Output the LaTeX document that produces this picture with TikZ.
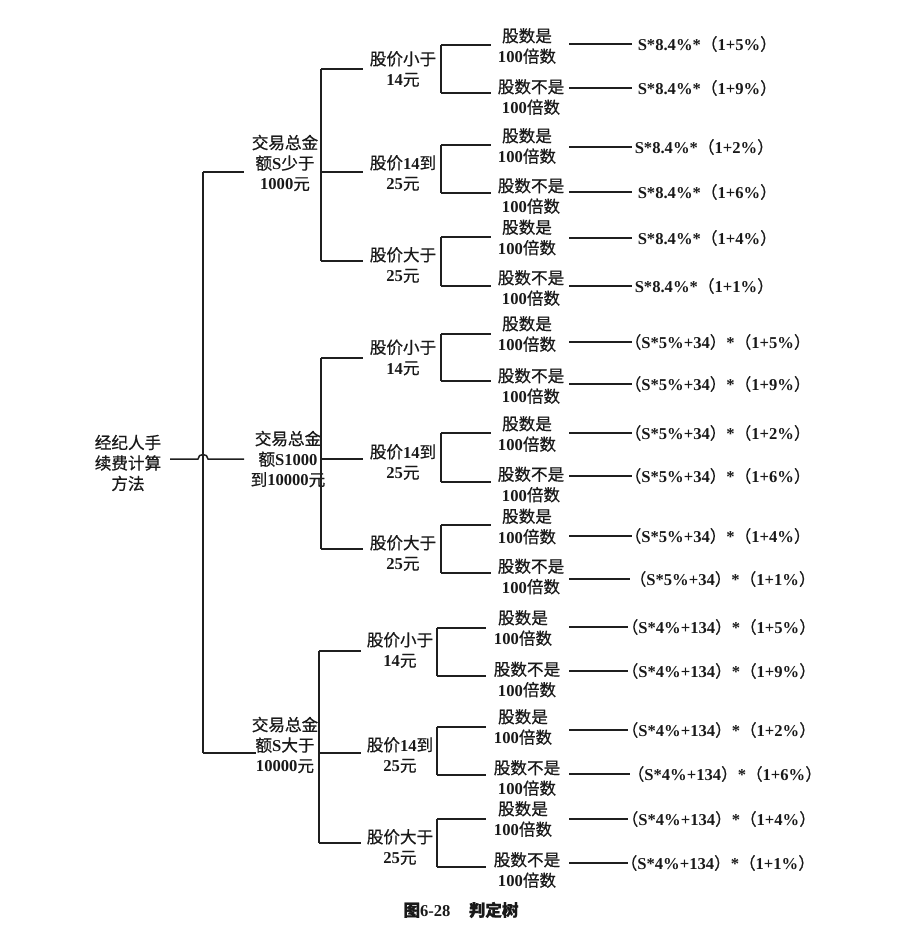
\documentclass[tikz,border=0pt]{standalone}
\usepackage{fontspec}
\setmainfont{Liberation Serif}
\newfontfamily\cjkfont[FakeBold=0.6]{Noto Sans CJK SC}
\newcommand\zh[1]{{\cjkfont\mdseries #1}}
\newcommand\ismult{\zh{股数是}\\100\zh{倍数}}
\newcommand\notmult{\zh{股数不是}\\100\zh{倍数}}
\newcommand\fa[1]{S*8.4\%*\zh{（}1+#1\%\zh{）}}
\newcommand\fb[1]{\zh{（}S*5\%+34\zh{）}*\zh{（}1+#1\%\zh{）}}
\newcommand\fc[1]{\zh{（}S*4\%+134\zh{）}*\zh{（}1+#1\%\zh{）}}
% leaf: id, stub y, text x, text y, text, leader y, leader end x, formula x, formula
\newcommand\leaf[9]{%
  \coordinate (#1s) at (\stubx,#2);
  \coordinate (#1e) at (\stubxe,#2);
  \node[lbl] (#1) at (#3,#4) {#5};
  \coordinate (#1l) at (569,#6);
  \coordinate (#1r) at (#7,#6);
  \node[fml] (#1f) at (#8,#6) {#9};
  \draw (#1s) -- (#1e);
  \draw (#1l) -- (#1r);
}
% price branch: id, group spine x, branch y, label x, label y, label, stub top y, stub bottom y
\newcommand\pricebranch[8]{%
  \coordinate (#1j) at (#2,#3);
  \coordinate (#1i) at (#2+42,#3);
  \node[lbl] (#1) at (#4,#5) {#6};
  \coordinate (#1t) at (\stubx,#7);
  \coordinate (#1b) at (\stubx,#8);
  \draw (#1j) -- (#1i);
  \draw (#1t) -- (#1b);
}
\begin{document}
\begin{tikzpicture}[x=1pt,y=-1pt,line width=1.5pt,draw=black!88,
  txt/.style={inner sep=0pt,text=black!90,font=\fontsize{16.6}{20.5}\selectfont\bfseries},
  lbl/.style={txt,align=center},
  fml/.style={txt,anchor=west}]
\useasboundingbox (0,0) rectangle (916,933);

% root and trunk
\node[lbl] (root) at (128,463) {\zh{经纪人手}\\\zh{续费计算}\\\zh{方法}};
\coordinate (rootout) at (170,459);
\coordinate (hopL) at (198,459);
\coordinate (hopR) at (208,459);
\coordinate (stem1) at (203,172);
\coordinate (stem3) at (203,753);
\coordinate (g1in) at (244,172);
\coordinate (g2in) at (244,459);
\coordinate (g3in) at (256,753);
\draw (stem1) -- (stem3);
\draw (stem1) -- (g1in);
\draw (stem3) -- (g3in);
\draw (rootout) -- (hopL) .. controls (198,453) and (208,453) .. (hopR) -- (g2in);

% ---------- amount below 1000
\node[lbl] (g1) at (285,163) {\zh{交易总金}\\\zh{额}S\zh{少于}\\1000\zh{元}};
\def\stubx{441}\def\stubxe{491}
\pricebranch{g1a}{321}{69}{403}{69}{\zh{股价小于}\\14\zh{元}}{45}{93}
\pricebranch{g1b}{321}{172}{403}{173}{\zh{股价}14\zh{到}\\25\zh{元}}{145}{193}
\pricebranch{g1c}{321}{261}{403}{265}{\zh{股价大于}\\25\zh{元}}{237}{286}
\draw (g1aj) -- (g1cj);
\leaf{l1}{45}{527}{46}{\ismult}{44}{632}{637}{\fa{5}}
\leaf{l2}{93}{531}{97}{\notmult}{88}{632}{637}{\fa{9}}
\leaf{l3}{145}{527}{146}{\ismult}{147}{632}{634}{\fa{2}}
\leaf{l4}{193}{531}{196}{\notmult}{192}{632}{637}{\fa{6}}
\leaf{l5}{237}{527}{237.5}{\ismult}{238}{632}{637}{\fa{4}}
\leaf{l6}{286}{531}{288}{\notmult}{286}{632}{634}{\fa{1}}

% ---------- amount 1000 to 10000
\node[lbl] (g2) at (288,459) {\zh{交易总金}\\\zh{额}S1000\\\zh{到}10000\zh{元}};
\pricebranch{g2a}{321}{358}{403}{357.5}{\zh{股价小于}\\14\zh{元}}{334}{381}
\pricebranch{g2b}{321}{459}{403}{462}{\zh{股价}14\zh{到}\\25\zh{元}}{433}{482}
\pricebranch{g2c}{321}{549}{403}{553}{\zh{股价大于}\\25\zh{元}}{525}{573}
\draw (g2aj) -- (g2cj);
\leaf{l7}{334}{527}{334}{\ismult}{342}{632}{624}{\fb{5}}
\leaf{l8}{381}{531}{386}{\notmult}{384}{632}{624}{\fb{9}}
\leaf{l9}{433}{527}{434}{\ismult}{433}{632}{624}{\fb{2}}
\leaf{l10}{482}{531}{484.5}{\notmult}{476}{632}{624}{\fb{6}}
\leaf{l11}{525}{527}{526.5}{\ismult}{536}{632}{624}{\fb{4}}
\leaf{l12}{573}{531}{576.5}{\notmult}{579}{630}{629}{\fb{1}}

% ---------- amount above 10000
\node[lbl] (g3) at (285,745) {\zh{交易总金}\\\zh{额}S\zh{大于}\\10000\zh{元}};
\def\stubx{437}\def\stubxe{486}
\pricebranch{g3a}{319}{651}{400}{650}{\zh{股价小于}\\14\zh{元}}{628}{676}
\pricebranch{g3b}{319}{753}{400}{755}{\zh{股价}14\zh{到}\\25\zh{元}}{727}{775}
\pricebranch{g3c}{319}{843}{400}{847}{\zh{股价大于}\\25\zh{元}}{819}{867}
\draw (g3aj) -- (g3cj);
\leaf{l13}{628}{523}{628}{\ismult}{627}{628}{621}{\fc{5}}
\leaf{l14}{676}{527}{679.5}{\notmult}{671}{628}{621}{\fc{9}}
\leaf{l15}{727}{523}{727}{\ismult}{730}{628}{621}{\fc{2}}
\leaf{l16}{775}{527}{778}{\notmult}{774}{630}{627}{\fc{6}}
\leaf{l17}{819}{523}{819}{\ismult}{819}{628}{621}{\fc{4}}
\leaf{l18}{867}{527}{870}{\notmult}{863}{628}{620}{\fc{1}}

% caption
\node[txt] (caption) at (461,910) {{\cjkfont 图}6-28\hspace{1.1em}{\cjkfont 判定树}};
\end{tikzpicture}
\end{document}
